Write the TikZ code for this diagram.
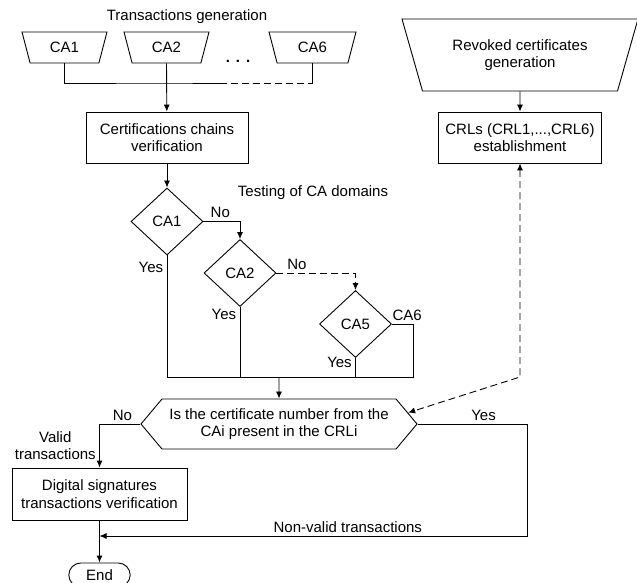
\documentclass[tikz,border=0pt]{standalone}
\usepackage{fontspec}
\setmainfont{Liberation Sans}
\usepackage{tikz}
\usetikzlibrary{arrows.meta,positioning,shapes.geometric,shapes.symbols,shapes.misc}

\begin{document}
\begin{tikzpicture}[x=1pt,y=-1pt,font=\fontsize{15}{17.5}\selectfont,line width=0.9pt,
  >={Latex[length=7pt,width=6pt]},
  dsh/.style={dash pattern=on 7pt off 4pt},
  trap/.style={draw,trapezium,shape border rotate=180,trapezium stretches body,inner sep=2pt},
  box/.style={draw,align=center,minimum height=51pt},
  test/.style={draw,diamond,minimum width=72pt,minimum height=67pt,inner sep=0pt},
  hex/.style={draw,signal,signal to=east and west,signal pointer angle=100,minimum width=276pt,minimum height=50pt,align=center,inner sep=1pt}]
\useasboundingbox (0,0) rectangle (637,583);
\node (title) at (187,17) {Transactions generation};
\node[trap,trapezium angle=61,minimum width=85pt,minimum height=31pt] (ca1) at (64.5,47.5) {CA1};
\node[trap,trapezium angle=61,minimum width=85pt,minimum height=31pt] (ca2) at (166.5,47.5) {CA2};
\node[trap,trapezium angle=61,minimum width=87pt,minimum height=31pt] (ca6) at (312.5,47.5) {CA6};
\node (dots) at (238,61) {\textbf{.\hspace{6pt}.\hspace{6pt}.}};
\node[trap,align=center,trapezium angle=60,minimum width=236pt,minimum height=72pt] (rev) at (520,55) {Revoked certificates\\generation};
\node[box,minimum width=162pt] (cert) at (167,137.5) {Certifications chains\\verification};
\node[box,minimum width=163pt] (crl) at (520,137.5) {CRLs (CRL1,...,CRL6)\\establishment};
\node[test] (t1) at (167,221.5) {CA1};
\node[test] (t2) at (240,273) {CA2};
\node[test] (t5) at (355.5,324) {CA5};
\node (testing) at (313,193) {Testing of CA domains};
\node[hex] (chk) at (279,424) {Is the certificate number from the\\CAi present in the CRLi};
\node[box,minimum width=175pt,minimum height=52pt] (dig) at (99.5,494) {Digital signatures\\transactions verification};
\node[draw,rounded rectangle,minimum width=68pt,minimum height=24pt] (end) at (99.5,575) {End};
\coordinate (jn) at (166.5,83);
\coordinate (col) at (279,377);
\coordinate (cr) at (413,377);
\coordinate (dk) at (520,377);
\coordinate (mrg) at (99.5,536);
% CA sources
\draw (ca1.south) |- (jn) -- ++(53,0) coordinate (dst);
\draw[dsh] (dst) -- (dst -| ca6.south);
\draw (ca6.south) -- (dst -| ca6.south);
\draw[->] (ca2.south) -- (cert);
\draw[->] (rev) -- (crl);
% domain tests
\draw[->] (cert) -- (t1);
\draw[->] (t1.east) -| node[pos=0.23,above]{No} (t2.north);
\draw[->,dsh] (t2.east) -| node[pos=0.13,above]{No} (t5.north);
\draw (t1.south) -- node[pos=0.1,left]{Yes} (t1.south |- col);
\draw (t2.south) -- node[pos=0.11,left]{Yes} (t2.south |- col);
\draw (t5.south) -- node[pos=0.26,left]{Yes} (t5.south |- col);
\draw (t5.east) -| node[pos=0.36,above]{CA6} (cr) -- (t1.south |- col);
\draw[->] (col) -- (chk);
% CRL check
\draw[<->,dsh] (crl) -- (dk) -- (chk.5);
\draw[->] (chk.west) -| node[pos=0.22,above]{No} node[pos=0.75,left,align=center]{Valid\\transactions} (dig);
\draw[->] (chk.east) -- node[pos=0.6,above]{Yes} ++(110,0) |- node[pos=0.71,above]{Non-valid transactions} (mrg);
\draw[->] (dig) -- (end);
\end{tikzpicture}
\end{document}
